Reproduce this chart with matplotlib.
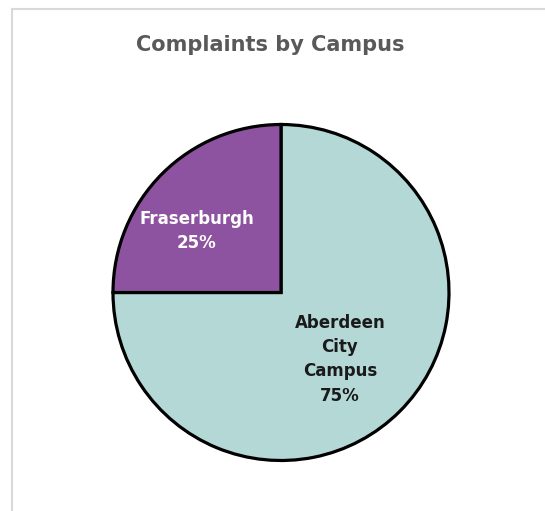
import numpy as np
import matplotlib
matplotlib.use('Agg')
import matplotlib.pyplot as plt
from matplotlib.lines import Line2D

campuses = ['Aberdeen\nCity\nCampus', 'Fraserburgh']
shares = [75, 25]
colors = ['#b3d8d6', '#8e53a0']
label_colors = ['#1a1a1a', 'white']

plt.rcParams['font.family'] = ['DejaVu Sans']

W, H = 545, 511
fig = plt.figure(figsize=(W / 100, H / 100), dpi=100)

# light grey frame on left and top
fig.add_artist(Line2D([12 / W, 12 / W], [0, 1 - 9 / H], color='#d9d9d9', lw=1.5))
fig.add_artist(Line2D([12 / W, 1], [1 - 9 / H, 1 - 9 / H], color='#d9d9d9', lw=1.5))

cx, cy, r = 281, 292.5, 168
ax = fig.add_axes([(cx - r) / W, (H - cy - r) / H, 2 * r / W, 2 * r / H])
wedges, _ = ax.pie(shares, colors=colors, startangle=90, counterclock=False,
                   wedgeprops=dict(edgecolor='black', linewidth=2.3))
ax.set_xlim(-1, 1)
ax.set_ylim(-1, 1)
ax.set_aspect('equal')
ax.axis('off')

dists = [0.53, 0.62]
offsets = [-3.5, 9]
for w, name, pct, c, d, off in zip(wedges, campuses, shares, label_colors, dists, offsets):
    ang = np.deg2rad((w.theta1 + w.theta2) / 2 + off)
    ax.text(d * np.cos(ang), d * np.sin(ang), f'{name}\n{pct}%', ha='center', va='center',
            color=c, fontsize=12, fontweight='bold', linespacing=1.45)

fig.text(270 / W, 1 - 45 / H, 'Complaints by Campus', ha='center', va='center',
         fontsize=15, fontweight='bold', color='#595959')

fig.savefig('out.png', dpi=100)
